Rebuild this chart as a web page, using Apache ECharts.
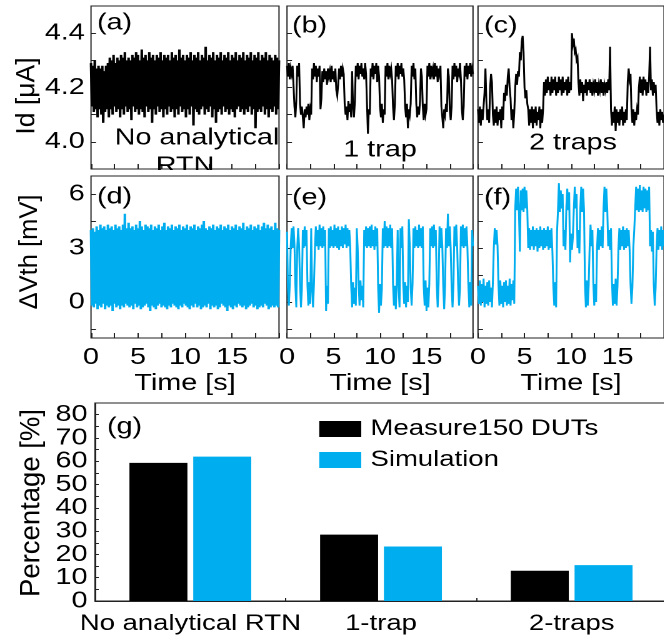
<!DOCTYPE html>
<html><head><meta charset="utf-8">
<script src="https://cdn.jsdelivr.net/npm/echarts@6/dist/echarts.min.js"></script>
<style>
html,body{margin:0;padding:0;background:#fff;overflow:hidden}
#wrap{width:664px;height:638px;overflow:hidden;position:relative}
#c{width:531.2px;height:638px;transform:scaleX(1.25);transform-origin:0 0}
</style>
</head><body><div id="wrap"><div id="c"></div></div>
<script>
// ---- sampled traces, 0.1 s per sample, 0..20 s ----
const timeStep = 0.1;
const idNoRTN = [
4.29,4.13,4.28,4.11,4.30,4.12,4.27,4.09,4.28,4.12,
4.27,4.10,4.28,4.07,4.26,4.11,4.28,4.12,4.29,4.09,
4.31,4.12,4.30,4.10,4.32,4.13,4.29,4.11,4.31,4.12,
4.30,4.09,4.32,4.12,4.31,4.10,4.33,4.13,4.30,4.11,
4.31,4.12,4.30,4.08,4.32,4.13,4.31,4.11,4.33,4.12,
4.32,4.10,4.30,4.12,4.34,4.11,4.31,4.09,4.32,4.13,
4.30,4.11,4.33,4.12,4.31,4.07,4.32,4.12,4.30,4.10,
4.32,4.13,4.31,4.11,4.33,4.12,4.30,4.09,4.32,4.12,
4.31,4.10,4.32,4.13,4.30,4.11,4.33,4.12,4.31,4.09,
4.32,4.12,4.30,4.10,4.34,4.13,4.31,4.11,4.32,4.12,
4.30,4.09,4.32,4.12,4.31,4.10,4.33,4.13,4.30,4.06,
4.32,4.12,4.31,4.11,4.33,4.10,4.30,4.12,4.32,4.13,
4.31,4.10,4.35,4.12,4.30,4.11,4.32,4.13,4.31,4.09,
4.33,4.12,4.30,4.07,4.32,4.11,4.31,4.12,4.33,4.10,
4.30,4.13,4.32,4.11,4.31,4.12,4.33,4.10,4.30,4.12,
4.32,4.11,4.31,4.09,4.33,4.12,4.30,4.13,4.32,4.11,
4.31,4.12,4.33,4.10,4.30,4.12,4.32,4.11,4.31,4.13,
4.33,4.10,4.30,4.12,4.32,4.05,4.31,4.11,4.33,4.12,
4.30,4.11,4.32,4.13,4.31,4.10,4.33,4.12,4.30,4.09,
4.32,4.12,4.31,4.11,4.30,4.13,4.32,4.10,4.31,4.12,
4.30];
const id1Trap = [
4.28,4.24,4.29,4.23,4.27,4.25,4.28,4.21,4.13,4.09,
4.15,4.28,4.24,4.29,4.14,4.10,4.13,4.09,4.05,4.12,
4.09,4.13,4.10,4.14,4.08,4.12,4.10,4.27,4.23,4.29,
4.24,4.28,4.22,4.27,4.24,4.28,4.12,4.16,4.26,4.22,
4.27,4.23,4.26,4.21,4.27,4.24,4.26,4.22,4.28,4.23,
4.26,4.22,4.27,4.19,4.17,4.21,4.27,4.23,4.28,4.24,
4.27,4.25,4.14,4.10,4.13,4.08,4.15,4.11,4.14,4.09,
4.26,4.13,4.09,4.15,4.28,4.24,4.29,4.23,4.28,4.25,
4.29,4.24,4.27,4.23,4.29,4.25,4.14,4.03,4.12,4.10,
4.27,4.24,4.29,4.23,4.28,4.25,4.29,4.22,4.28,4.24,
4.13,4.09,4.14,4.07,4.12,4.10,4.28,4.24,4.29,4.23,
4.28,4.25,4.27,4.23,4.13,4.08,4.14,4.28,4.24,4.29,
4.23,4.28,4.25,4.29,4.24,4.27,4.23,4.13,4.09,4.14,
4.05,4.12,4.10,4.14,4.28,4.24,4.29,4.23,4.27,4.14,
4.09,4.13,4.10,4.15,4.27,4.24,4.13,4.08,4.14,4.10,
4.12,4.28,4.24,4.29,4.23,4.28,4.25,4.27,4.23,4.29,
4.24,4.28,4.22,4.27,4.25,4.28,4.13,4.09,4.05,4.12,
4.10,4.14,4.11,4.27,4.24,4.12,4.08,4.13,4.28,4.23,
4.29,4.24,4.28,4.22,4.27,4.25,4.29,4.23,4.12,4.08,
4.13,4.28,4.24,4.29,4.23,4.28,4.25,4.29,4.24,4.27,
4.25];
const id2Traps = [
4.12,4.07,4.13,4.06,4.12,4.08,4.13,4.18,4.27,4.15,
4.08,4.12,4.07,4.20,4.25,4.22,4.10,4.06,4.12,4.07,
4.13,4.06,4.11,4.08,4.12,4.05,4.13,4.08,4.18,4.15,
4.21,4.17,4.24,4.27,4.20,4.16,4.08,4.12,4.05,4.11,
4.20,4.25,4.21,4.26,4.24,4.33,4.30,4.37,4.39,4.33,
4.20,4.16,4.19,4.14,4.12,4.06,4.12,4.07,4.13,4.05,
4.12,4.07,4.13,4.06,4.11,4.08,4.13,4.05,4.12,4.07,
4.12,4.22,4.17,4.23,4.18,4.24,4.19,4.22,4.17,4.24,
4.18,4.23,4.19,4.24,4.17,4.22,4.18,4.24,4.19,4.23,
4.17,4.24,4.18,4.22,4.19,4.23,4.17,4.24,4.18,4.22,
4.19,4.40,4.36,4.38,4.33,4.34,4.30,4.31,4.22,4.17,
4.23,4.18,4.22,4.15,4.21,4.18,4.23,4.17,4.22,4.19,
4.23,4.18,4.22,4.17,4.21,4.19,4.23,4.18,4.22,4.17,
4.21,4.19,4.23,4.18,4.22,4.17,4.21,4.19,4.22,4.18,
4.23,4.19,4.35,4.12,4.06,4.11,4.07,4.13,4.04,4.12,
4.07,4.11,4.06,4.12,4.08,4.13,4.06,4.11,4.07,4.12,
4.08,4.22,4.27,4.23,4.25,4.12,4.07,4.12,4.06,4.11,
4.08,4.12,4.10,4.20,4.24,4.18,4.23,4.17,4.24,4.19,
4.23,4.17,4.22,4.18,4.24,4.35,4.19,4.23,4.17,4.22,
4.18,4.21,4.12,4.07,4.11,4.06,4.12,4.08,4.11,4.07,
4.10];
const vthNoRTN = [
4.0,-0.2,4.1,-0.3,3.9,-0.1,4.2,-0.4,4.0,-0.2,
4.3,-0.3,4.1,-0.1,4.2,-0.4,4.0,-0.2,4.3,-0.3,
4.1,-0.2,4.2,-0.5,4.0,-0.1,4.3,-0.3,4.1,-0.2,
4.2,-0.4,4.0,-0.2,4.3,-0.3,4.9,-0.1,4.1,-0.2,
4.4,-0.3,4.1,-0.2,4.2,-0.4,4.0,-0.1,4.3,-0.3,
4.1,-0.2,4.5,-0.4,4.2,-0.3,4.0,-0.2,4.3,-0.1,
4.2,-0.3,4.1,-0.5,4.3,-0.2,4.0,-0.3,4.2,-0.4,
4.1,-0.2,4.3,-0.1,4.0,-0.3,4.2,-0.2,4.4,-0.3,
4.0,-0.4,4.2,-0.2,4.1,-0.3,4.3,-0.1,4.0,-0.2,
4.2,-0.3,4.1,-0.4,4.3,-0.2,4.0,-0.3,4.2,-0.1,
4.1,-0.2,4.3,-0.3,4.0,-0.4,4.2,-0.2,4.1,-0.3,
4.3,-0.1,4.0,-0.3,4.2,-0.2,4.1,-0.4,4.3,-0.3,
4.5,-0.2,4.1,-0.3,4.0,-0.1,4.2,-0.4,4.1,-0.2,
4.3,-0.3,4.0,-0.2,4.2,-0.4,4.1,-0.3,4.3,-0.1,
4.0,-0.2,4.2,-0.3,4.1,-0.5,4.3,-0.2,4.0,-0.3,
4.2,-0.4,4.1,-0.2,4.3,-0.3,4.0,-0.1,4.2,-0.2,
4.1,-0.3,4.4,-0.2,4.0,-0.4,4.2,-0.3,4.1,-0.2,
4.3,-0.1,4.0,-0.3,4.2,-0.2,4.1,-0.4,4.3,-0.3,
4.0,-0.2,4.2,-0.3,4.4,-0.1,4.1,-0.2,4.3,-0.4,
4.1,-0.3,4.2,-0.2,4.0,-0.3,4.4,-0.2,4.1,-0.3,
4.0];
const vth1Trap = [
3.9,0.8,-0.2,1.0,3.1,4.1,3.0,4.2,3.2,0.9,
-0.3,3.0,4.1,3.1,1.0,-0.3,0.7,4.0,3.0,4.2,
3.1,4.0,0.9,-0.2,1.1,-0.1,4.1,0.8,-0.3,1.0,
3.0,4.2,3.1,4.0,2.9,4.3,3.1,4.1,3.0,4.2,
3.1,4.0,-0.5,0.9,-0.1,4.1,3.0,4.2,3.1,4.0,
3.0,4.3,3.1,4.1,3.0,4.2,2.9,4.0,3.1,4.2,
3.0,4.1,3.2,4.3,3.0,4.1,3.1,4.0,3.0,0.9,
-0.3,1.1,-0.1,0.8,-0.2,4.1,3.0,1.0,-0.2,1.2,
0.1,0.9,-0.3,4.0,3.1,4.2,3.0,4.1,3.1,4.2,
3.0,4.3,3.1,4.0,2.9,4.2,3.1,4.1,0.8,-0.6,
1.0,-0.2,0.7,4.1,3.0,4.5,3.1,4.2,3.0,4.1,
3.1,4.3,3.0,4.1,1.0,-0.2,0.9,-0.4,1.1,4.0,
0.8,-0.3,4.1,3.0,4.2,1.0,-0.1,1.1,-0.3,0.9,
0.0,4.6,3.1,0.8,-0.2,1.0,4.1,3.0,4.2,3.1,
4.0,3.0,4.3,3.1,4.1,3.0,4.2,0.9,-0.2,1.2,
-0.5,0.8,-0.3,1.0,4.1,3.1,4.2,3.0,4.3,3.1,
4.0,0.9,-0.3,1.0,4.2,3.0,4.1,3.1,0.9,-0.4,
1.0,4.1,3.0,4.9,3.1,4.2,3.0,0.8,-0.3,1.0,
4.2,3.1,4.3,3.0,1.0,-0.2,0.8,4.2,3.1,4.3,
3.0,4.1,3.1,4.2,3.0,1.0,-0.3,1.1,-0.2,4.0,
3.1];
const vth2Traps = [
0.9,-0.1,1.2,-0.2,1.0,0.0,1.3,-0.3,0.9,-0.1,
1.1,-0.2,1.2,0.0,0.8,-0.3,1.1,3.0,4.1,3.2,
4.0,3.1,1.0,-0.2,1.2,-0.1,0.9,-0.3,1.1,0.0,
1.2,-0.2,0.9,-0.1,1.3,-0.2,1.0,0.1,1.2,-0.1,
5.2,6.3,5.1,6.4,5.0,2.8,6.2,5.1,6.3,5.0,
6.4,5.2,6.2,5.1,3.0,4.1,2.9,4.0,3.1,4.2,
2.9,4.0,3.1,4.1,2.8,4.0,3.0,4.2,3.1,4.0,
2.9,4.1,3.0,4.0,3.1,4.2,2.9,4.0,3.0,4.1,
2.8,0.9,-0.2,1.1,-0.3,3.9,5.1,6.6,5.0,6.2,
5.2,6.0,3.1,4.0,2.9,5.3,6.3,5.1,6.1,2.2,
3.8,2.9,3.6,5.1,6.4,5.2,6.0,3.0,4.0,2.7,
5.2,6.4,5.0,6.3,5.1,1.0,-0.3,1.2,-0.2,0.9,
3.0,4.3,3.1,4.0,1.1,-0.2,1.0,0.0,3.0,4.1,
2.9,4.0,3.1,4.2,3.0,5.2,6.4,5.0,6.3,5.1,
3.1,4.0,2.9,4.1,1.2,-0.2,1.0,-0.1,1.3,-0.2,
0.9,3.0,4.1,2.9,4.0,3.1,4.2,2.9,4.0,3.0,
4.1,3.1,4.0,2.9,1.0,-0.1,0.8,3.0,4.0,5.2,
6.4,5.1,6.3,5.0,6.5,5.1,6.2,5.0,6.4,5.2,
6.3,5.0,6.2,5.1,6.4,3.1,4.0,2.8,3.9,1.0,
-0.2,0.8,3.0,4.1,2.9,4.0,3.1,4.2,2.9,4.0,
3.1];

// ---- axis tick values ----
const timeTicks = [0,2.5,5,7.5,10,12.5,15,17.5,20];
const timeLabels = [0,5,10,15];
const idTicks = [4.0,4.1,4.2,4.3,4.4];
const idLabels = [4.0,4.2,4.4];
const vthTicks = [-1.5,0,1.5,3,4.5,6];
const vthLabels = [0,3,6];

// ---- bar chart (g) ----
const categories = ['No analytical RTN','1-trap','2-traps'];
const measured = [59.3,28.5,13.0];
const simulated = [62.0,23.4,15.4];
const pctLabels = [0,10,20,30,40,50,60,70,80];
const pctTicks = [0,5,10,15,20,25,30,35,40,45,50,55,60,65,70,75,80];

// The page is drawn on a canvas 1/1.25 as wide and stretched back to 664 px,
// which gives the wide lettering of the original figure.
const S = 1.25;
const X = v => v / S;
const FONT = "'Liberation Sans', Arial, sans-serif";
const BLUE = '#00AEEF';
const FRAME = '#222';
const FS = 23;

function pairs(arr){ return arr.map((v,i)=>[+(i*timeStep).toFixed(1), v]); }

const boxes = [
  {left:91, top:6, width:188, height:163},
  {left:287, top:6, width:186, height:163},
  {left:478, top:6, width:186, height:163},
  {left:91, top:176, width:188, height:162},
  {left:287, top:176, width:186, height:162},
  {left:478, top:176, width:186, height:162},
  {left:95, top:403, width:572, height:198}
];
const grid = boxes.map(b => ({show:true, borderColor:FRAME, borderWidth:1, backgroundColor:'transparent',
  containLabel:false, outerBoundsMode:'none', left:X(b.left), width:X(b.width), top:b.top, height:b.height}));

const xAxis = [], yAxis = [], series = [];
const traces = [idNoRTN, id1Trap, id2Traps, vthNoRTN, vth1Trap, vth2Traps];
const widths = [2, 1.5, 1.5, 2, 1.5, 1.5];
for (let k=0;k<6;k++){
  const bottomRow = k>=3;
  xAxis.push({
    type:'value', gridIndex:k, min:0, max:20,
    axisLine:{show:false, onZero:false},
    axisTick:{show:true, inside:true, length:5, customValues:timeTicks, lineStyle:{color:FRAME}},
    splitLine:{show:false},
    axisLabel:{show:bottomRow, customValues:timeLabels, fontSize:FS, color:'#000', margin:8, fontFamily:FONT,
      showMinLabel:true, showMaxLabel:true},
    name: bottomRow ? 'Time [s]' : '', nameLocation:'middle', nameGap:34,
    nameTextStyle:{fontSize:FS, color:'#000', fontFamily:FONT}
  });
  const isId = k<3;
  yAxis.push({
    type:'value', gridIndex:k,
    min: isId ? 3.9 : -2, max: isId ? 4.5 : 7,
    axisLine:{show:false, onZero:false},
    axisTick:{show:true, inside:true, length:4, customValues: isId ? idTicks : vthTicks, lineStyle:{color:FRAME}},
    splitLine:{show:false},
    axisLabel:{show: k===0 || k===3, customValues: isId ? idLabels : vthLabels, fontSize:FS, color:'#000', margin:5, fontFamily:FONT,
      showMinLabel:true, showMaxLabel:true,
      formatter: v => isId ? Number(v).toFixed(1) : String(v)}
  });
  series.push({
    type:'line', xAxisIndex:k, yAxisIndex:k, data:pairs(traces[k]),
    showSymbol:false, symbol:'none', silent:true, animation:false,
    lineStyle:{width:widths[k], color: isId ? '#000' : BLUE, join:'miter'}, z:2
  });
}
// bar chart axes
xAxis.push({
  type:'category', gridIndex:6, data:categories, boundaryGap:true,
  axisLine:{show:true, onZero:false, lineStyle:{color:FRAME}},
  axisTick:{show:true, inside:true, length:3, alignWithLabel:false, lineStyle:{color:FRAME}},
  axisLabel:{fontSize:22, color:'#000', margin:12, fontFamily:FONT, interval:0, showMinLabel:true, showMaxLabel:true}
});
xAxis.push({
  type:'value', gridIndex:6, min:0, max:3, position:'bottom',
  axisLine:{show:false, onZero:false}, axisLabel:{show:false}, splitLine:{show:false},
  axisTick:{show:true, inside:true, length:7, customValues:[0.664,1.664,2.664], lineStyle:{color:FRAME}}
});
yAxis.push({
  type:'value', gridIndex:6, min:0, max:85,
  axisLine:{show:true, onZero:false, lineStyle:{color:FRAME}},
  axisTick:{show:true, inside:true, length:3, customValues:pctTicks, lineStyle:{color:FRAME}},
  splitLine:{show:false},
  axisLabel:{customValues:pctLabels, fontSize:FS, color:'#000', margin:6, fontFamily:FONT,
    hideOverlap:false, showMinLabel:true, showMaxLabel:true}
});
series.push({
  name:'Measure150 DUTs', type:'bar', xAxisIndex:6, yAxisIndex:6, data:measured,
  barWidth:X(58), barGap:'10%', itemStyle:{color:'#000'}
});
series.push({
  name:'Simulation', type:'bar', xAxisIndex:6, yAxisIndex:6, data:simulated,
  barWidth:X(58), barGap:'10%', itemStyle:{color:BLUE}
});

function txt(t, x, y, align, extra, size){
  return Object.assign({type:'text', x:X(x), y:y, z:100, silent:true,
    style:{text:t, fontSize:size||FS, fontFamily:FONT, fill:'#000', textAlign:align||'left', textVerticalAlign:'middle'}}, extra||{});
}
const vert = {rotation:Math.PI/2, scaleY:1/S};
const graphic = [
  txt('(a)', 97, 23), txt('(b)', 292, 26), txt('(c)', 484, 26),
  txt('(d)', 97, 197), txt('(e)', 292, 198), txt('(f)', 484, 198),
  txt('(g)', 107, 427),
  txt('No analytical', 197, 138, 'center'),
  txt('RTN', 185, 166, 'center'),
  {type:'rect', z:101, silent:true, shape:{x:X(91), y:170, width:X(188), height:5}, style:{fill:'#fff'}},
  txt('1 trap', 380, 150, 'center'),
  txt('2 traps', 573, 143, 'center'),
  txt('Id [\u03bcA]', 27, 96, 'center', vert, 26.5),
  txt('\u0394Vth [mV]', 30, 252, 'center', vert, 25.5),
  txt('Percentage [%]', 32, 503, 'center', vert, 27.5)
];

const chart = echarts.init(document.getElementById('c'), null, {renderer:'canvas', devicePixelRatio:2, width:531.2, height:638});
chart.setOption({
  animation:false,
  backgroundColor:'#fff',
  textStyle:{fontFamily:FONT},
  grid, xAxis, yAxis, series, graphic,
  legend:{
    show:true, orient:'vertical', left:X(313), top:413, itemWidth:X(42), itemHeight:16, itemGap:9,
    icon:'rect', data:['Measure150 DUTs','Simulation'],
    textStyle:{fontSize:22, color:'#000', fontFamily:FONT, padding:[0,0,0,X(3)]}
  }
});
</script></body></html>
